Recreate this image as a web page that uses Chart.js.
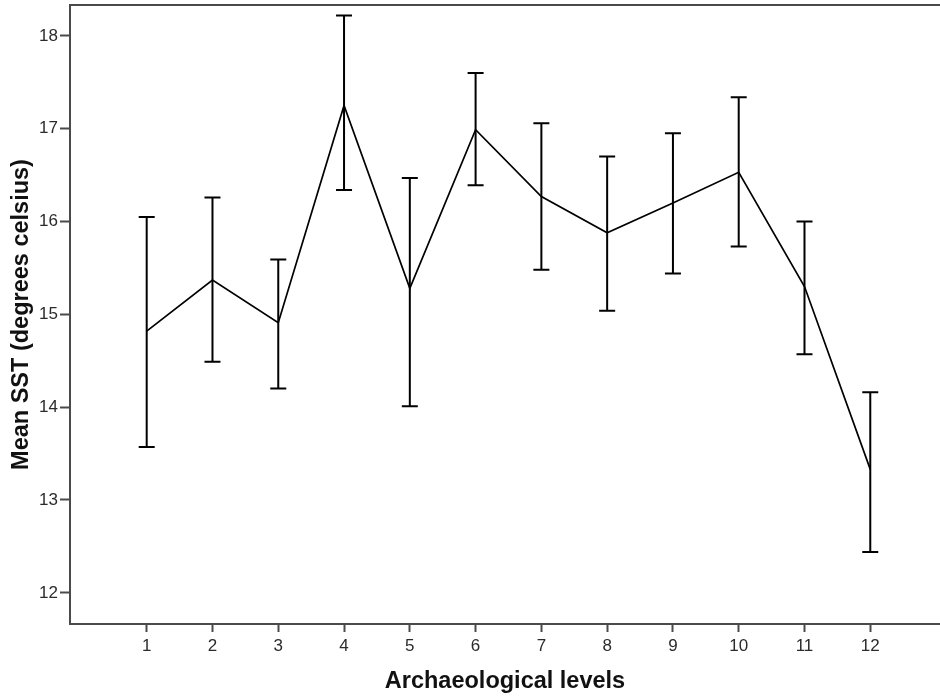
<!DOCTYPE html>
<html>
<head>
<meta charset="utf-8">
<title>Mean SST by archaeological level</title>
<script src="https://cdn.jsdelivr.net/npm/chart.js@4.4.1/dist/chart.umd.min.js"></script>
<style>
   body {
      margin: 0;
      background: #ffffff;
   }
   canvas {
      display: block;
   }
</style>
</head>
<body>
<canvas id="sstChart" width="940" height="698"></canvas>
<script>
// Mean SST per level with the upper and lower ends of each error bar
const levels = [1, 2, 3, 4, 5, 6, 7, 8, 9, 10, 11, 12];
const meanSST = [14.82, 15.37, 14.91, 17.25, 15.28, 16.99, 16.27, 15.88, 16.20, 16.53, 15.30, 13.33];
const upperSST = [16.05, 16.26, 15.59, 18.22, 16.47, 17.60, 17.06, 16.70, 16.95, 17.34, 16.00, 14.16];
const lowerSST = [13.57, 14.49, 14.20, 16.34, 14.01, 16.39, 15.48, 15.04, 15.44, 15.73, 14.57, 12.44];
const yTicks = [12, 13, 14, 15, 16, 17, 18];

const axisColor = "#4a4a4a";
const labelColor = "#2b2b2b";
const fontFamily = "'Liberation Sans', Arial, sans-serif";

// Draws the vertical whiskers with caps and the top edge of the frame
const errorBarPlugin = {
   id: "errorBars",
   afterDatasetsDraw(chart) {
      const ctx = chart.ctx;
      const x = chart.scales.x;
      const y = chart.scales.y;
      const area = chart.chartArea;
      const capHalf = 8;

      ctx.save();
      ctx.strokeStyle = "#000000";
      ctx.lineWidth = 2;
      ctx.lineCap = "butt";
      for (let i = 0; i < levels.length; i++) {
         const px = x.getPixelForValue(levels[i]);
         const top = y.getPixelForValue(upperSST[i]);
         const bottom = y.getPixelForValue(lowerSST[i]);

         ctx.beginPath();
         ctx.moveTo(px, top);
         ctx.lineTo(px, bottom);
         ctx.moveTo(px - capHalf, top);
         ctx.lineTo(px + capHalf, top);
         ctx.moveTo(px - capHalf, bottom);
         ctx.lineTo(px + capHalf, bottom);
         ctx.stroke();
      }

      ctx.strokeStyle = axisColor;
      ctx.lineWidth = 2;
      ctx.beginPath();
      ctx.moveTo(area.left, area.top);
      ctx.lineTo(area.right, area.top);
      ctx.stroke();
      ctx.restore();
   },
};

function initChart() {
   const ctx = document.getElementById("sstChart").getContext("2d");
   new Chart(ctx, {
      type: "line",
      data: {
         datasets: [
            {
               label: "Mean SST",
               data: levels.map((level, i) => ({ x: level, y: meanSST[i] })),
               borderColor: "#000000",
               borderWidth: 1.7,
               pointRadius: 0,
               tension: 0,
               fill: false,
            },
         ],
      },
      options: {
         responsive: false,
         animation: false,
         devicePixelRatio: 1,
         layout: {
            padding: { top: 5, right: 0, bottom: 0, left: 0 },
         },
         plugins: {
            legend: { display: false },
            tooltip: { enabled: false },
         },
         scales: {
            x: {
               type: "linear",
               min: -0.166,
               max: 13.06,
               afterBuildTicks: (axis) => {
                  axis.ticks = levels.map((v) => ({ value: v }));
               },
               afterFit: (axis) => {
                  axis.height = 74;
                  axis.paddingLeft = 0;
                  axis.paddingRight = 0;
               },
               grid: {
                  drawOnChartArea: false,
                  drawTicks: true,
                  tickLength: 8,
                  tickColor: axisColor,
                  tickWidth: 2,
               },
               border: { color: axisColor, width: 2 },
               ticks: {
                  color: labelColor,
                  padding: 4,
                  font: { family: fontFamily, size: 17 },
                  callback: (v) => v,
               },
               title: {
                  display: true,
                  text: "Archaeological levels",
                  color: "#111111",
                  padding: { top: 0, bottom: 2 },
                  font: { family: fontFamily, size: 23.5, weight: "bold" },
               },
            },
            y: {
               type: "linear",
               min: 11.664,
               max: 18.333,
               afterBuildTicks: (axis) => {
                  axis.ticks = yTicks.map((v) => ({ value: v }));
               },
               afterFit: (axis) => {
                  axis.width = 70;
                  axis.paddingTop = 0;
                  axis.paddingBottom = 0;
               },
               grid: {
                  drawOnChartArea: false,
                  drawTicks: true,
                  tickLength: 10,
                  tickColor: axisColor,
                  tickWidth: 2,
               },
               border: { color: axisColor, width: 2 },
               ticks: {
                  color: labelColor,
                  padding: 2,
                  font: { family: fontFamily, size: 17 },
                  callback: (v) => v,
               },
               title: {
                  display: true,
                  text: "Mean SST (degrees celsius)",
                  color: "#111111",
                  padding: { top: 7, bottom: 0 },
                  font: { family: fontFamily, size: 23.5, weight: "bold" },
               },
            },
         },
      },
      plugins: [errorBarPlugin],
   });
}

document.addEventListener("DOMContentLoaded", initChart);
</script>
</body>
</html>
